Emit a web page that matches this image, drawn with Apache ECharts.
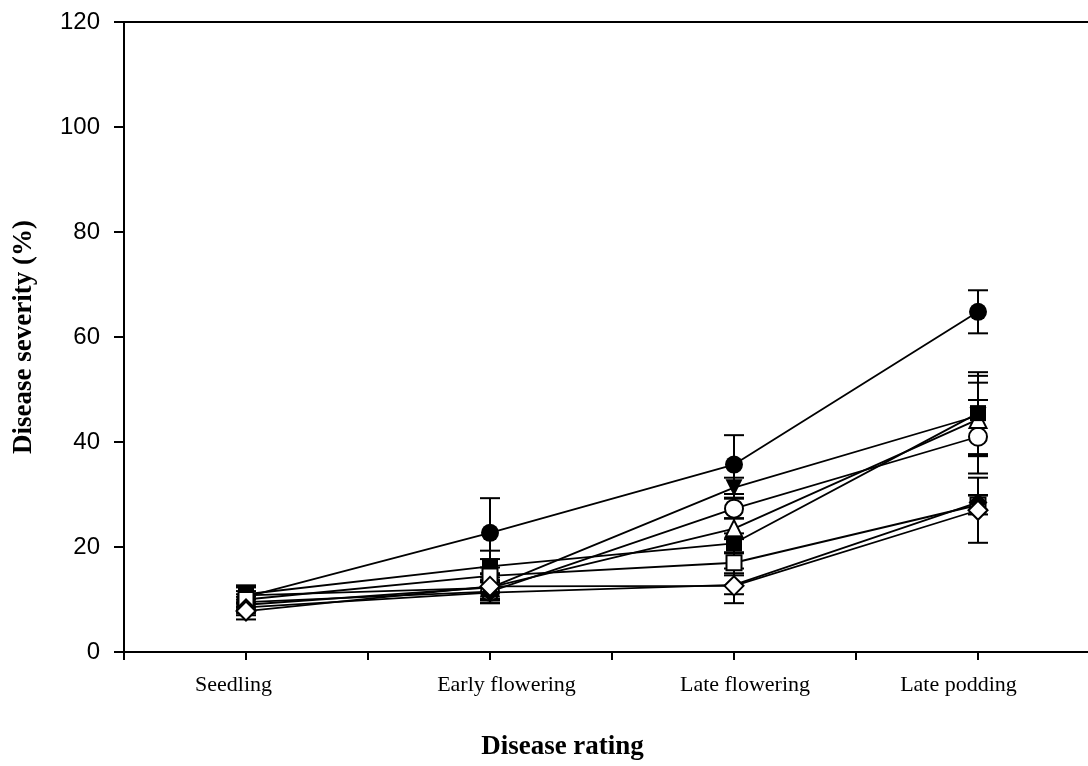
<!DOCTYPE html>
<html>
<head>
<meta charset="utf-8">
<script src="https://cdn.jsdelivr.net/npm/echarts@6/dist/echarts.min.js"></script>
<style>
  html, body { margin: 0; padding: 0; background: #fff; }
  #chart { width: 1088px; height: 766px; }
</style>
</head>
<body>
<div id="chart"></div>
<script>
const categories = ['Seedling', 'Early flowering', 'Late flowering', 'Late podding'];
const yTicks = [0, 20, 40, 60, 80, 100, 120];

// mean disease severity (%) and error for each treatment, by marker
const closedCircle = [10.5, 22.7, 35.7, 64.8];
const closedCircleErr = [1.8, 6.6, 5.6, 4.1];
const openCircle = [9.5, 11.5, 27.3, 41.0];
const openCircleErr = [1.5, 2.2, 1.9, 7.0];
const closedTriDown = [10.8, 12.2, 31.3, 45.0];
const closedTriDownErr = [1.6, 2.0, 1.9, 7.6];
const openTriUp = [9.0, 12.3, 23.5, 44.3];
const openTriUpErr = [1.5, 2.5, 2.0, 7.0];
const closedSquare = [11.0, 16.3, 20.7, 45.5];
const closedSquareErr = [1.7, 3.0, 1.9, 7.8];
const openSquare = [10.0, 14.5, 17.0, 28.0];
const openSquareErr = [1.6, 3.2, 2.0, 1.8];
const closedDiamond = [8.5, 11.3, 12.8, 28.5];
const closedDiamondErr = [1.5, 2.0, 1.8, 1.4];
const openDiamond = [7.8, 12.5, 12.6, 27.0];
const openDiamondErr = [1.6, 2.5, 3.3, 6.2];

const groups = [
  {vals: closedCircle, err: closedCircleErr, symbol: 'circle', size: 18, filled: true},
  {vals: openCircle, err: openCircleErr, symbol: 'circle', size: 18, filled: false},
  {vals: closedTriDown, err: closedTriDownErr, symbol: 'triangle', size: 17, filled: true, rotate: 180},
  {vals: openTriUp, err: openTriUpErr, symbol: 'triangle', size: 17, filled: false},
  {vals: closedSquare, err: closedSquareErr, symbol: 'rect', size: 16, filled: true},
  {vals: openSquare, err: openSquareErr, symbol: 'rect', size: 15, filled: false},
  {vals: closedDiamond, err: closedDiamondErr, symbol: 'diamond', size: 19, filled: true},
  {vals: openDiamond, err: openDiamondErr, symbol: 'diamond', size: 19, filled: false}
];

const myChart = echarts.init(document.getElementById('chart'));

function errorBar(params, api) {
  const x = api.value(0);
  const y = api.value(1);
  const e = api.value(2);
  const top = api.coord([x, y + e]);
  const bot = api.coord([x, y - e]);
  const w = 10;
  const style = {stroke: '#000', lineWidth: 2};
  return {
    type: 'group',
    children: [
      {type: 'line', shape: {x1: top[0], y1: top[1], x2: bot[0], y2: bot[1]}, style: style},
      {type: 'line', shape: {x1: top[0] - w, y1: top[1], x2: top[0] + w, y2: top[1]}, style: style},
      {type: 'line', shape: {x1: bot[0] - w, y1: bot[1], x2: bot[0] + w, y2: bot[1]}, style: style}
    ]
  };
}

const series = [];
groups.forEach(function (g) {
  series.push({
    type: 'custom',
    renderItem: errorBar,
    encode: {x: 0, y: 1},
    data: g.vals.map(function (v, i) { return [i + 0.5, v, g.err[i]]; }),
    silent: true
  });
  series.push({
    type: 'line',
    data: g.vals.map(function (v, i) { return [i + 0.5, v]; }),
    symbol: g.symbol,
    symbolSize: g.size,
    symbolRotate: g.rotate || 0,
    showAllSymbol: true,
    lineStyle: {color: '#000', width: 1.8},
    itemStyle: {
      color: g.filled ? '#000' : '#fff',
      borderColor: '#000',
      borderWidth: g.filled ? 0 : 2
    },
    emphasis: {disabled: true},
    animation: false
  });
});

// the category labels sit a little off their ticks in the original
const labelRich = {};
const labelPad = [[0, 25, 0, 0], [0, 0, 0, 33], [0, 0, 0, 22], [0, 39, 0, 0]];
labelPad.forEach(function (p, i) {
  labelRich['c' + i] = {fontFamily: 'Liberation Serif', fontSize: 22, color: '#000', padding: p};
});

const option = {
  animation: false,
  grid: {
    left: 124,
    top: 22,
    height: 630,
    width: 976,
    outerBoundsMode: 'none',
    show: true,
    borderColor: '#000',
    borderWidth: 2,
    backgroundColor: 'transparent'
  },
  xAxis: {
    type: 'value',
    min: 0,
    max: categories.length,
    interval: 0.5,
    name: 'Disease rating',
    nameLocation: 'middle',
    nameGap: 82,
    nameTextStyle: {
      fontFamily: 'Liberation Serif',
      fontWeight: 'bold',
      fontSize: 27,
      color: '#000',
      padding: [0, 99, 0, 0]
    },
    axisLine: {lineStyle: {color: '#000', width: 2}},
    axisTick: {length: 8, lineStyle: {color: '#000', width: 2}},
    splitLine: {show: false},
    axisLabel: {
      margin: 22,
      fontFamily: 'Liberation Serif',
      fontSize: 22,
      color: '#000',
      formatter: function (v) {
        const i = v - 0.5;
        if (Number.isInteger(i) && categories[i]) {
          return '{c' + i + '|' + categories[i] + '}';
        }
        return '';
      },
      rich: labelRich
    }
  },
  yAxis: {
    type: 'value',
    min: yTicks[0],
    max: yTicks[yTicks.length - 1],
    interval: yTicks[1] - yTicks[0],
    name: 'Disease severity (%)',
    nameLocation: 'middle',
    nameRotate: 90,
    nameGap: 86,
    nameTextStyle: {
      fontFamily: 'Liberation Serif',
      fontWeight: 'bold',
      fontSize: 27,
      color: '#000'
    },
    axisLine: {show: true, lineStyle: {color: '#000', width: 2}},
    axisTick: {show: true, length: 10, lineStyle: {color: '#000', width: 2}},
    splitLine: {show: false},
    axisLabel: {
      margin: 24,
      fontFamily: 'Liberation Sans',
      fontSize: 24,
      color: '#000'
    }
  },
  series: series
};

myChart.setOption(option);
</script>
</body>
</html>
